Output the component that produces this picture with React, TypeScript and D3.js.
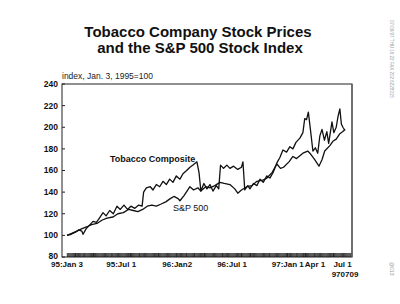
import * as d3 from 'd3';

const TOBACCO: [string, number][] = [
  ['1995-01-03', 100], ['1995-01-17', 101], ['1995-01-31', 103], ['1995-02-10', 105],
  ['1995-02-21', 104], ['1995-02-25', 101], ['1995-03-07', 106], ['1995-03-20', 110],
  ['1995-03-30', 113], ['1995-04-10', 112], ['1995-04-20', 116], ['1995-05-02', 121],
  ['1995-05-12', 118], ['1995-05-24', 123], ['1995-06-05', 120], ['1995-06-17', 127],
  ['1995-06-28', 124], ['1995-07-10', 128], ['1995-07-22', 124], ['1995-08-02', 127],
  ['1995-08-15', 125], ['1995-08-28', 128], ['1995-09-08', 127], ['1995-09-13', 140],
  ['1995-09-22', 144], ['1995-10-05', 145], ['1995-10-14', 142], ['1995-10-25', 147],
  ['1995-11-05', 145], ['1995-11-16', 150], ['1995-11-27', 147], ['1995-12-08', 152],
  ['1995-12-19', 149], ['1995-12-30', 155], ['1996-01-11', 152], ['1996-01-21', 157],
  ['1996-02-02', 160], ['1996-02-13', 163], ['1996-02-23', 165], ['1996-03-07', 168],
  ['1996-03-14', 158], ['1996-03-20', 141], ['1996-03-30', 148], ['1996-04-09', 143],
  ['1996-04-19', 147], ['1996-04-29', 141], ['1996-05-10', 146], ['1996-05-18', 143],
  ['1996-05-24', 165], ['1996-06-03', 162], ['1996-06-14', 165], ['1996-06-24', 162],
  ['1996-07-06', 164], ['1996-07-20', 161], ['1996-08-01', 163], ['1996-08-06', 168],
  ['1996-08-12', 142], ['1996-08-22', 146], ['1996-08-29', 143], ['1996-09-10', 148],
  ['1996-09-21', 146], ['1996-10-01', 152], ['1996-10-12', 149], ['1996-10-24', 155],
  ['1996-11-03', 153], ['1996-11-15', 159], ['1996-11-26', 167], ['1996-12-06', 172],
  ['1996-12-16', 179], ['1996-12-28', 177], ['1997-01-08', 182], ['1997-01-18', 180],
  ['1997-01-28', 186], ['1997-02-10', 190], ['1997-02-20', 195], ['1997-02-26', 208],
  ['1997-03-04', 207], ['1997-03-10', 214], ['1997-03-18', 195], ['1997-03-25', 178],
  ['1997-04-02', 181], ['1997-04-10', 176], ['1997-04-17', 192], ['1997-04-24', 198],
  ['1997-05-02', 188], ['1997-05-10', 196], ['1997-05-16', 185], ['1997-05-27', 205],
  ['1997-06-02', 195], ['1997-06-10', 200], ['1997-06-16', 210], ['1997-06-22', 217],
  ['1997-06-27', 203], ['1997-07-02', 200], ['1997-07-09', 197],
];

const SP500: [string, number][] = [
  ['1995-01-03', 100], ['1995-01-20', 102], ['1995-02-05', 104], ['1995-02-20', 106],
  ['1995-03-10', 108], ['1995-03-25', 110], ['1995-04-12', 111], ['1995-04-28', 114],
  ['1995-05-15', 116], ['1995-06-04', 117], ['1995-06-20', 120], ['1995-07-08', 121],
  ['1995-07-25', 124], ['1995-08-10', 123], ['1995-08-25', 122], ['1995-09-10', 124],
  ['1995-09-25', 127], ['1995-10-10', 128], ['1995-10-25', 127], ['1995-11-10', 129],
  ['1995-11-25', 131], ['1995-12-10', 134], ['1995-12-22', 136], ['1996-01-05', 134],
  ['1996-01-11', 132], ['1996-01-25', 137], ['1996-02-13', 145], ['1996-02-25', 142],
  ['1996-03-10', 144], ['1996-03-20', 141], ['1996-04-05', 145], ['1996-04-19', 144],
  ['1996-05-05', 146], ['1996-05-22', 149], ['1996-06-05', 148], ['1996-06-24', 147],
  ['1996-07-10', 143], ['1996-07-20', 139], ['1996-08-01', 142], ['1996-08-19', 145],
  ['1996-09-05', 146], ['1996-09-21', 150], ['1996-10-10', 151], ['1996-10-24', 153],
  ['1996-11-10', 158], ['1996-11-26', 166], ['1996-12-08', 162], ['1996-12-18', 163],
  ['1997-01-05', 168], ['1997-01-18', 173], ['1997-01-30', 171], ['1997-02-20', 176],
  ['1997-03-08', 178], ['1997-03-15', 176], ['1997-03-31', 170], ['1997-04-14', 164],
  ['1997-04-24', 170], ['1997-05-03', 178], ['1997-05-20', 183], ['1997-05-30', 187],
  ['1997-06-10', 189], ['1997-06-22', 194], ['1997-07-02', 196], ['1997-07-09', 198],
];

const Y_TICKS = [80, 100, 120, 140, 160, 180, 200, 220, 240];
const X_TICKS: [string, string][] = [
  ['1995-01-03', '95:Jan 3'],
  ['1995-07-01', '95:Jul 1'],
  ['1996-01-02', '96:Jan2'],
  ['1996-07-01', '96:Jul 1'],
  ['1997-01-01', '97:Jan 1'],
  ['1997-04-01', 'Apr 1'],
  ['1997-07-01', 'Jul 1'],
];

const FONT = '"Liberation Sans", Arial, sans-serif';
const parse = d3.utcParse('%Y-%m-%d');

export default function App() {
  const frame = { left: 62, right: 352, top: 84, bottom: 257 };

  const x = d3.scaleUtc()
    .domain([parse('1995-01-03')!, parse('1997-07-09')!])
    .range([67, 345]);
  const y = d3.scaleLinear().domain([80, 240]).range([frame.bottom, frame.top]);

  const line = d3.line<[string, number]>()
    .x((d) => x(parse(d[0])!))
    .y((d) => y(d[1]))
    .curve(d3.curveLinear);

  // dense date tick strip along the bottom
  const stripTicks = d3.utcDay.every(3)!.range(parse('1995-01-03')!, x.invert(frame.right - 1));

  return (
    <div style={{ position: 'absolute', left: 0, top: 0 }}>
      <svg width={400} height={304} style={{ display: 'block', background: '#fff' }} fontFamily={FONT}>
        <text x={198} y={37} textAnchor="middle" fontSize={15} fontWeight="bold" fill="#111">
          Tobacco Company Stock Prices
        </text>
        <text x={200} y={53} textAnchor="middle" fontSize={15} fontWeight="bold" fill="#111">
          and the S&amp;P 500 Stock Index
        </text>
        <text x={62} y={79} fontSize={8.5} fill="#222">index, Jan. 3, 1995=100</text>

        {/* frame */}
        <rect x={frame.left} y={frame.top} width={frame.right - frame.left} height={frame.bottom - frame.top}
          fill="none" stroke="#222" strokeWidth={1} />
        <line x1={frame.right} x2={frame.right} y1={frame.top} y2={frame.bottom} stroke="#666" strokeWidth={1.5} />

        {/* y axis */}
        {Y_TICKS.map((t) => (
          <g key={t}>
            <line x1={frame.left} x2={frame.left + 3} y1={y(t)} y2={y(t)} stroke="#222" strokeWidth={1} />
            <text x={58} y={y(t)} dy={t === 80 ? '0.2em' : '0.35em'} textAnchor="end" fontSize={8.5} fontWeight="bold" fill="#111">{t}</text>
          </g>
        ))}

        {/* tick strip */}
        {stripTicks.map((d, i) => (
          <line key={i} x1={x(d)} x2={x(d)} y1={frame.bottom - 4} y2={frame.bottom} stroke="#111" strokeWidth={0.8} />
        ))}

        {/* x labels */}
        {X_TICKS.map(([d, label]) => (
          <text key={d} x={x(parse(d)!)} y={267} textAnchor="middle" fontSize={8} fontWeight="bold" fill="#111">{label}</text>
        ))}
        <text x={x(parse('1997-07-09')!)} y={277} textAnchor="middle" fontSize={8} fontWeight="bold" fill="#111">970709</text>

        {/* series */}
        <path d={line(SP500)!} fill="none" stroke="#111" strokeWidth={1.3} strokeLinejoin="round" />
        <path d={line(TOBACCO)!} fill="none" stroke="#111" strokeWidth={1.3} strokeLinejoin="round" />

        <text x={110} y={162} fontSize={9} fontWeight="bold" fill="#111">Tobacco Composite</text>
        <text x={173} y={211} fontSize={9} fill="#111">S&amp;P 500</text>

        {/* fax header */}
        <text transform="translate(390,20) rotate(90)" fontSize={4.5} fill="#999">07/09/97  THU 16:22 FAX 202 6228315</text>
        <text transform="translate(390,262) rotate(90)" fontSize={5} fill="#999">@013</text>
      </svg>
    </div>
  );
}
